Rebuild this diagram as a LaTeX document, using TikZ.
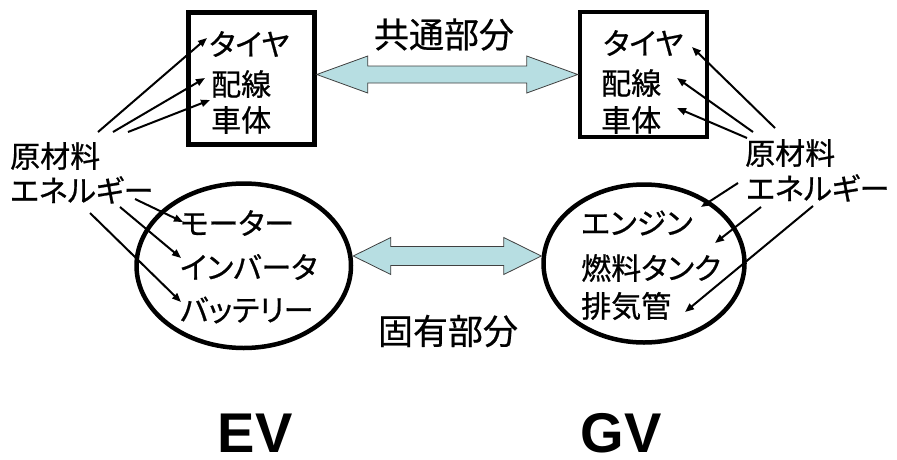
\documentclass[tikz,border=0pt]{standalone}
\usepackage{fontspec}
\setmainfont{Noto Sans CJK JP}[RawFeature={+palt;embolden=0.7}]
\newfontfamily\bigjp{Noto Sans CJK JP}[RawFeature={+palt;embolden=0.5}]
\newfontfamily\latinsans{Liberation Sans}
\usetikzlibrary{arrows.meta,shapes.geometric,calc}
\definecolor{arrowblue}{RGB}{183,222,226}
\newcommand\twoheadarrow[6]{% from, to, head length, head half, shaft half, y
  \draw[dbl] let \p1=(#1), \p2=(#2) in
    (\x1,#6) -- (\x1+#3,#6+#4) -- (\x1+#3,#6+#5) -- (\x2-#3,#6+#5)
    -- (\x2-#3,#6+#4) -- (\x2,#6) -- (\x2-#3,#6-#4) -- (\x2-#3,#6-#5)
    -- (\x1+#3,#6-#5) -- (\x1+#3,#6-#4) -- cycle;}
\begin{document}
\begin{tikzpicture}[x=1pt,y=-1pt,
  jp/.style={font=\fontsize{30}{32}\selectfont, inner sep=0pt, anchor=west},
  big/.style={font=\bigjp\fontsize{35}{36}\selectfont, inner sep=0pt},
  lbl/.style={font=\latinsans\bfseries\fontsize{56}{60}\selectfont, inner sep=0pt},
  feed/.style={line width=2pt, -{Triangle[length=9pt,width=7pt]}},
  frame/.style={draw, line width=4.5pt},
  dbl/.style={fill=arrowblue, draw=black!75, line width=0.8pt}]
\useasboundingbox (0,0) rectangle (897,459);
% boxes and ellipses
\node[frame, minimum width=126pt, minimum height=132pt, inner sep=0pt] (boxL) at (251.5,78.5) {};
\node[frame, minimum width=127pt, minimum height=125pt, inner sep=0pt] (boxR) at (643.5,74.5) {};
\node[frame, ellipse, minimum width=214.5pt, minimum height=164.5pt, inner sep=0pt] (ellL) at (243.75,265.75) {};
\node[frame, ellipse, minimum width=201pt, minimum height=158pt, inner sep=0pt] (ellR) at (644,263.5) {};
% double arrows
\twoheadarrow{boxL.east}{boxR.west}{51pt}{18.5pt}{8.5pt}{-74.5pt}
\twoheadarrow{ellL.east}{ellR.west}{37.5pt}{18.5pt}{9.5pt}{-256pt}
% titles
\node[big] (common) at (444,34.5) {共通部分};
\node[big] (unique) at (448,331) {固有部分};
% left box texts
\node[jp] (tireL) at (209,44) {タイヤ};
\node[jp] (wireL) at (211,84) {配線};
\node[jp] (bodyL) at (211,120) {車体};
% right box texts
\node[jp] (tireR) at (603,43) {タイヤ};
\node[jp] (wireR) at (601,83) {配線};
\node[jp] (bodyR) at (601,120) {車体};
% labels
\node[jp] (rawL) at (10,156) {原材料};
\node[jp] (enL) at (10,190) {エネルギー};
\node[jp] (rawR) at (745,153) {原材料};
\node[jp] (enR) at (746,188) {エネルギー};
% ellipse texts
\node[jp] (motor) at (180,223) {モーター};
\node[jp] (inv) at (180,267) {インバータ};
\node[jp] (batt) at (180,310) {バッテリー};
\node[jp] (engine) at (581,223) {エンジン};
\node[jp] (tank) at (581,268) {燃料タンク};
\node[jp] (exhaust) at (581,306) {排気管};
% EV / GV
\node[lbl] (ev) at (255,433) {EV};
\node[lbl] (gv) at (621,433) {GV};
% arrow end points
\coordinate (a1s) at (98,132);  \coordinate (a1e) at (207,38);
\coordinate (a2s) at (113,132); \coordinate (a2e) at (205,78);
\coordinate (a3s) at (128,132); \coordinate (a3e) at (210,100);
\coordinate (a4s) at (135,199); \coordinate (a4e) at (183,222);
\coordinate (a5s) at (120,207); \coordinate (a5e) at (181,258);
\coordinate (a6s) at (90,213);  \coordinate (a6e) at (181,302);
\coordinate (b1s) at (775,128); \coordinate (b1e) at (692,47);
\coordinate (b2s) at (753,132); \coordinate (b2e) at (677,78);
\coordinate (b3s) at (747,138); \coordinate (b3e) at (677,108);
\coordinate (b4s) at (738,183); \coordinate (b4e) at (701,207);
\coordinate (b5s) at (761,207); \coordinate (b5e) at (715,243);
\coordinate (b6s) at (813,206); \coordinate (b6e) at (685,312);
\foreach \s/\e in {a1s/a1e,a2s/a2e,a3s/a3e,a4s/a4e,a5s/a5e,a6s/a6e,
                   b1s/b1e,b2s/b2e,b3s/b3e,b4s/b4e,b5s/b5e,b6s/b6e}
  \draw[feed] (\s) -- (\e);
\end{tikzpicture}
\end{document}
